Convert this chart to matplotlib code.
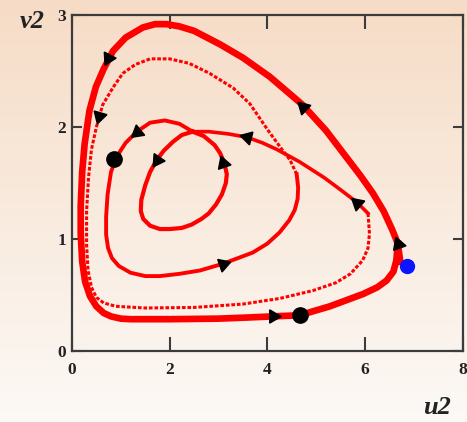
import numpy as np
import matplotlib.pyplot as plt

# outer (limit cycle) trajectory
outer_u = [6.72, 6.67, 6.56, 6.38, 6.16, 5.90, 5.62, 5.20, 4.72, 4.05, 3.50, 3.03, 2.50, 2.20,
           1.94, 1.70, 1.45, 1.10, 0.84, 0.65, 0.49, 0.36, 0.26, 0.21, 0.18, 0.18, 0.21, 0.27,
           0.37, 0.50, 0.65, 0.80, 1.00, 1.20, 2.00, 3.00, 3.60, 4.11, 4.66, 5.28, 5.96, 6.25,
           6.44, 6.58, 6.64, 6.67]
outer_v = [0.80, 0.96, 1.08, 1.25, 1.41, 1.57, 1.73, 1.97, 2.20, 2.45, 2.62, 2.74, 2.86, 2.90,
           2.92, 2.92, 2.89, 2.80, 2.68, 2.52, 2.36, 2.15, 1.85, 1.60, 1.30, 1.05, 0.80, 0.62,
           0.49, 0.40, 0.34, 0.31, 0.29, 0.285, 0.285, 0.29, 0.30, 0.31, 0.32, 0.40, 0.51, 0.57,
           0.63, 0.71, 0.81, 0.96]

# arc from the crossing point, through the start dot, round the middle loop
mid_u = [2.47, 2.20, 1.90, 1.60, 1.33, 1.10, 0.92, 0.80, 0.73, 0.70, 0.70, 0.74, 0.82, 0.96,
         1.20, 1.50, 1.80, 2.20, 2.62, 3.09, 3.70, 4.00, 4.25, 4.45, 4.56, 4.62, 4.63, 4.60]
mid_v = [1.96, 2.03, 2.06, 2.04, 1.96, 1.86, 1.74, 1.60, 1.40, 1.20, 1.04, 0.92, 0.83, 0.76,
         0.70, 0.67, 0.67, 0.69, 0.72, 0.78, 0.88, 0.96, 1.06, 1.17, 1.26, 1.36, 1.46, 1.58]

# fast (sparse) part of the same trajectory
sparse_u = [4.60, 4.46, 4.30, 4.00, 3.64, 3.30, 2.82, 2.40, 2.00, 1.60, 1.30, 1.04, 0.85, 0.63,
            0.50, 0.40, 0.34, 0.30, 0.30, 0.33, 0.40, 0.50, 0.65, 0.90, 1.50, 2.50, 3.50, 4.25,
            4.93, 5.40, 5.70, 5.95, 6.06, 6.09, 6.06]
sparse_v = [1.58, 1.71, 1.80, 1.98, 2.21, 2.35, 2.48, 2.57, 2.61, 2.61, 2.56, 2.48, 2.36, 2.20,
            2.00, 1.80, 1.55, 1.25, 0.95, 0.72, 0.57, 0.48, 0.43, 0.40, 0.385, 0.39, 0.42, 0.47,
            0.54, 0.61, 0.69, 0.81, 0.92, 1.05, 1.23]

# diagonal back to the crossing point
diag_u = [6.06, 5.83, 5.50, 5.16, 4.66, 4.20, 3.90, 3.58, 3.20, 2.80, 2.47]
diag_v = [1.23, 1.33, 1.44, 1.55, 1.69, 1.80, 1.86, 1.91, 1.94, 1.96, 1.96]

# innermost loop
inner_u = [2.47, 2.25, 2.07, 1.88, 1.74, 1.60, 1.50, 1.42, 1.41, 1.46, 1.60, 1.80, 2.00, 2.25,
           2.45, 2.65, 2.80, 2.95, 3.07, 3.15, 3.17, 3.12, 3.03, 2.92, 2.70, 2.47]
inner_v = [1.96, 1.93, 1.87, 1.79, 1.71, 1.60, 1.48, 1.35, 1.25, 1.18, 1.12, 1.09, 1.09, 1.10,
           1.13, 1.18, 1.23, 1.31, 1.40, 1.50, 1.58, 1.68, 1.77, 1.84, 1.92, 1.96]

# direction arrows: position and heading (degrees on screen)
arrow_u = [0.74, 0.55, 1.33, 1.74, 3.09, 3.58, 4.72, 5.83, 6.67, 4.11, 3.09]
arrow_v = [2.62, 2.10, 1.96, 1.71, 1.68, 1.91, 2.18, 1.32, 0.96, 0.31, 0.78]
arrow_ang = [-117, -106, -141, -124, 109, 165, 136, 139, 110, 0, 19]

dots_u = [0.86, 4.66]
dots_v = [1.72, 0.32]
start_u, start_v = 6.85, 0.76

fig = plt.figure(figsize=(4.67, 4.22), dpi=100)

# peach-to-white background
bg = fig.add_axes([0, 0, 1, 1], zorder=-1)
top = np.array([246, 220, 198]) / 255
bot = np.array([252, 249, 246]) / 255
t = np.linspace(0, 1, 256)[:, None, None]
bg.imshow(top + (bot - top) * t, aspect='auto', extent=[0, 1, 0, 1])
bg.axis('off')

ax = fig.add_axes([0.154, 0.168, 0.837, 0.796])
ax.patch.set_alpha(0)

red = '#ff0000'
ax.plot(outer_u, outer_v, color=red, lw=4.8, solid_joinstyle='round')
ax.plot(mid_u, mid_v, color=red, lw=2.8, solid_joinstyle='round')
ax.plot(sparse_u, sparse_v, color=red, lw=2.2, linestyle=(0, (1.2, 0.6)))
ax.plot(diag_u, diag_v, color=red, lw=2.6, solid_joinstyle='round')
ax.plot(inner_u, inner_v, color=red, lw=3.0, solid_joinstyle='round')

for u, v, a in zip(arrow_u, arrow_v, arrow_ang):
    ax.plot(u, v, marker=(3, 0, a - 90), ms=11, color='black', zorder=5)

ax.plot(dots_u, dots_v, 'o', color='black', ms=11, zorder=6)
ax.plot(start_u, start_v, 'o', color='#0a14ff', ms=10, zorder=6)

ax.set_xlim(0, 8)
ax.set_ylim(0, 3)
ax.set_xticks([0, 2, 4, 6, 8])
ax.set_yticks([0, 1, 2, 3])
for s in ax.spines.values():
    s.set_color('#3c3c3c')
    s.set_linewidth(1.6)
ax.tick_params(axis='x', direction='in', length=10, width=1.5, top=True, pad=8, colors='#3c3c3c')
ax.tick_params(axis='y', direction='in', length=7, width=1.5, right=True, pad=4, colors='#3c3c3c')
for lab in ax.get_xticklabels() + ax.get_yticklabels():
    lab.set_fontfamily('Liberation Serif')
    lab.set_fontweight('bold')
    lab.set_fontsize(12.5)
    lab.set_color('#222222')

fig.text(0.068, 0.95, 'v2', fontsize=19, fontweight='bold', fontstyle='italic',
         family='Liberation Serif', ha='center', va='center', color='#222222')
fig.text(0.935, 0.035, 'u2', fontsize=19, fontweight='bold', fontstyle='italic',
         family='Liberation Serif', ha='center', va='center', color='#222222')

fig.savefig('out.png', dpi=100)
